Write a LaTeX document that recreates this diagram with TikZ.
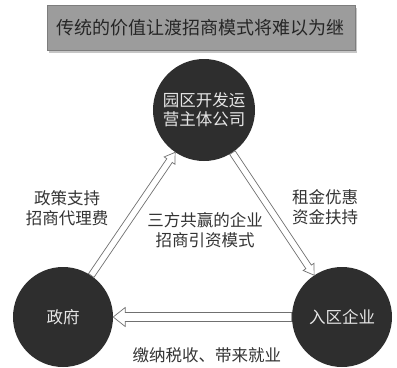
\documentclass[tikz,border=0pt]{standalone}
\usepackage{fontspec}
\newfontfamily\cjk{Noto Sans CJK SC}
\usetikzlibrary{calc,shadows}
\definecolor{circfill}{HTML}{2E2E2E}
\definecolor{circtext}{HTML}{E6E6E6}
\definecolor{lbltext}{HTML}{333333}
\definecolor{arrowgray}{HTML}{707070}
\definecolor{bannerfill}{HTML}{9C9C9C}
\definecolor{bannertext}{HTML}{262626}
\newcommand\hollowarrow[5]{%
  \coordinate (hc) at ($(#2)!#5!(#1)$);
  \draw[arrowline] ($(#1)!#3!90:(#2)$) -- ($(hc)!#3!-90:(#1)$) -- ($(hc)!#4!-90:(#1)$) -- (#2)
    -- ($(hc)!#4!90:(#1)$) -- ($(hc)!#3!90:(#1)$) -- ($(#1)!#3!-90:(#2)$) -- cycle;
}
\begin{document}
\begin{tikzpicture}[x=1bp,y=-1bp,
  circ/.style={circle, fill=circfill, minimum size=100bp, inner sep=0pt, text=circtext,
    font=\cjk\fontsize{16.5bp}{19bp}\selectfont, align=center},
  lbl/.style={text=lbltext, font=\cjk\fontsize{16.5bp}{20bp}\selectfont, align=center, inner sep=0pt},
  arrowline/.style={draw=arrowgray, line width=0.7bp, fill=white, line join=miter},
  banner/.style={fill=bannerfill, draw=bannerfill!80!black, line width=0.4bp,
    drop shadow={shadow xshift=2bp, shadow yshift=-2.5bp, opacity=0.45},
    minimum width=308bp, minimum height=45bp, inner sep=0pt, text=bannertext,
    font=\cjk\fontsize{18bp}{20bp}\selectfont}
]
\useasboundingbox (0,0) rectangle (397,368);
\node[banner] (title) at (201,27.5) {传统的价值让渡招商模式将难以为继};
\node[circ, minimum size=102bp] (top) at (204,110) {园区开发运\\营主体公司};
\node[circ] (left) at (63,317) {政府};
\node[circ] (right) at (342,317) {入区企业};
\path (left) -- (top) coordinate[pos=0] (la) coordinate[pos=1] (lb);
\path (top) -- (right) coordinate[pos=0] (ra) coordinate[pos=1] (rb);
\path (right) -- (left) coordinate[pos=0] (ba) coordinate[pos=1] (bb);
\hollowarrow{la}{lb}{3.3bp}{6.5bp}{10bp}
\hollowarrow{ra}{rb}{3.3bp}{6.5bp}{10bp}
\hollowarrow{ba}{bb}{4.5bp}{9.5bp}{12bp}
\node[lbl] (l1) at (67,208) {政策支持\\招商代理费};
\node[lbl] (l2) at (325,207) {租金优惠\\资金扶持};
\node[lbl] (l3) at (205,230) {三方共赢的企业\\招商引资模式};
\node[lbl] (l4) at (207,355) {缴纳税收、带来就业};
\end{tikzpicture}
\end{document}
